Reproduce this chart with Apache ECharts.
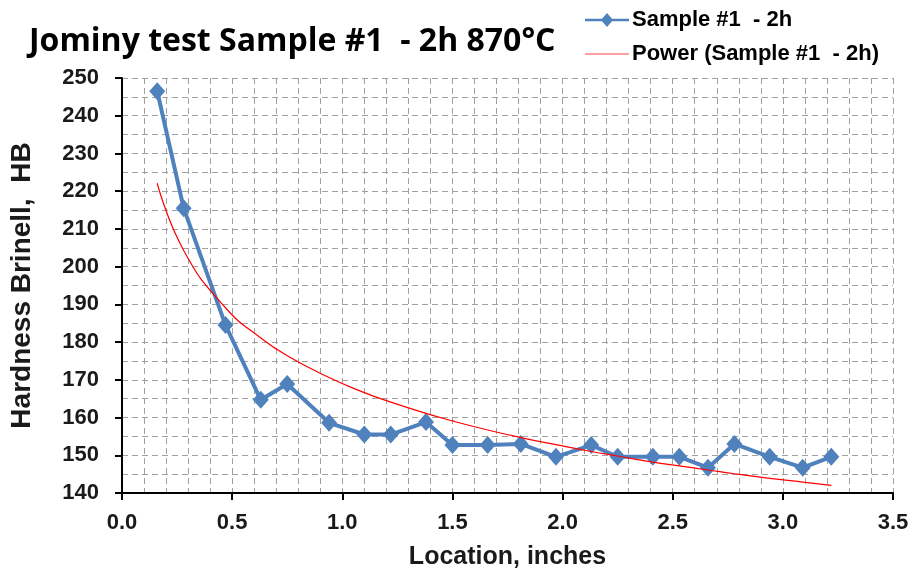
<!DOCTYPE html>
<html>
<head>
<meta charset="utf-8">
<script src="https://cdn.jsdelivr.net/npm/echarts@6/dist/echarts.min.js"></script>
<style>
  html, body { margin: 0; padding: 0; background: #fff; }
  #main { width: 915px; height: 577px; }
</style>
</head>
<body>
<div id="main"></div>
<script>
// values
const location_in = [0.16, 0.28, 0.47, 0.63, 0.75, 0.94, 1.10, 1.22, 1.38, 1.50, 1.66,
  1.81, 1.97, 2.13, 2.25, 2.41, 2.53, 2.66, 2.78, 2.94, 3.09, 3.22];
const hardness = [246.5, 215.5, 184.5, 164.7, 168.9, 158.6, 155.5, 155.5, 158.8, 152.7, 152.7,
  153, 149.6, 152.7, 149.6, 149.6, 149.6, 146.7, 153, 149.6, 146.7, 149.6];
// power trendline (red), sampled along the same locations
const trend = [222.1, 204.3, 189.1, 181.1, 176.4, 170.6, 166.6, 164.1, 161.1, 159.1, 156.7,
  154.7, 152.8, 151.0, 149.8, 148.2, 147.2, 146.1, 145.1, 143.9, 142.9, 142.0];

const seriesName = 'Sample #1  - 2h';
const trendName = 'Power (Sample #1  - 2h)';

let chart = echarts.init(document.getElementById('main'), null, { renderer: 'canvas' });

const gridDash = { color: '#a0a0a0', type: [6, 4], width: 1 };
const labelFont = { fontFamily: 'Liberation Sans, Arial, sans-serif', fontWeight: 'bold', fontSize: 22, color: '#1a1a1a' };

let option = {
  animation: false,
  title: {
    text: 'Jominy test Sample #1  - 2h 870\u00B0C',
    left: 24,
    top: 21,
    textStyle: { fontFamily: 'Open Sans, sans-serif', fontWeight: 'bold', fontSize: 32, color: '#000' }
  },
  legend: {
    orient: 'vertical',
    left: 580,
    top: 4,
    itemGap: 12,
    itemWidth: 44,
    itemHeight: 14,
    textStyle: { fontFamily: 'Liberation Sans, Arial, sans-serif', fontWeight: 'bold', fontSize: 22, color: '#000', padding: [0, 0, 0, -2] },
    data: [
      { name: seriesName, icon: 'path://M0,5.8 L17,5.8 L22,0 L27,5.8 L44,5.8 L44,8.2 L27,8.2 L22,14 L17,8.2 L0,8.2 Z' },
      { name: trendName, icon: 'path://M0,6.4 L44,6.4 L44,7.6 L0,7.6 Z' }
    ]
  },
  grid: { left: 121, right: 22, top: 78, bottom: 84, containLabel: false },
  xAxis: {
    type: 'value',
    min: 0, max: 3.5, interval: 0.5,
    name: 'Location, inches',
    nameLocation: 'middle',
    nameGap: 52,
    nameTextStyle: { fontFamily: 'Liberation Sans, Arial, sans-serif', fontWeight: 'bold', fontSize: 25, color: '#1a1a1a' },
    axisLine: { lineStyle: { color: '#000', width: 2 } },
    axisTick: { show: true, length: 7, lineStyle: { color: '#000', width: 2 } },
    axisLabel: Object.assign({ margin: 19, formatter: v => v.toFixed(1) }, labelFont),
    splitLine: { show: true, lineStyle: gridDash },
    minorTick: { show: false, splitNumber: 5 },
    minorSplitLine: { show: true, lineStyle: gridDash }
  },
  yAxis: {
    type: 'value',
    min: 140, max: 250, interval: 10,
    name: 'Hardness Brinell,  HB',
    nameLocation: 'middle',
    nameGap: 86,
    nameTextStyle: { fontFamily: 'Liberation Sans, Arial, sans-serif', fontWeight: 'bold', fontSize: 28, color: '#1a1a1a' },
    axisLine: { show: true, lineStyle: { color: '#000', width: 2 } },
    axisTick: { show: true, length: 7, lineStyle: { color: '#000', width: 2 } },
    axisLabel: Object.assign({ margin: 23 }, labelFont),
    splitLine: { show: true, lineStyle: gridDash },
    minorTick: { show: false, splitNumber: 2 },
    minorSplitLine: { show: true, lineStyle: gridDash }
  },
  series: [
    {
      name: seriesName,
      type: 'line',
      data: location_in.map((x, i) => [x, hardness[i]]),
      symbol: 'diamond',
      symbolSize: [16, 18],
      lineStyle: { color: '#4f81bd', width: 4 },
      itemStyle: { color: '#4f81bd' },
      z: 3
    },
    {
      name: trendName,
      type: 'line',
      data: location_in.map((x, i) => [x, trend[i]]),
      smooth: true,
      showSymbol: false,
      symbol: 'none',
      lineStyle: { color: '#ff0000', width: 1.2 },
      itemStyle: { color: '#ff4040' },
      z: 4
    }
  ]
};
chart.setOption(option);
</script>
</body>
</html>
